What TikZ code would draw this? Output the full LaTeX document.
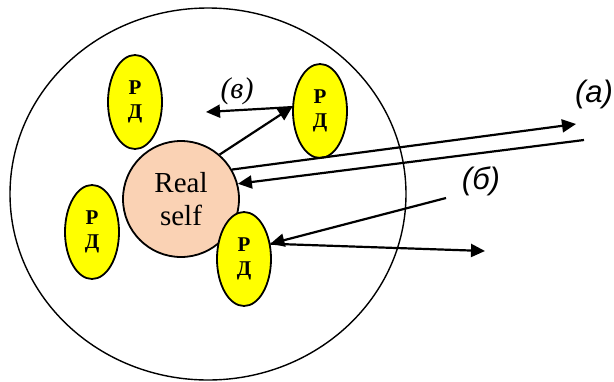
\documentclass[tikz,border=0pt]{standalone}
\usepackage{fontspec}
\setmainfont{Liberation Serif}
\newfontfamily\labelsans{Liberation Sans}
\usetikzlibrary{arrows.meta,shapes.geometric}
\definecolor{rdyellow}{RGB}{255,255,0}
\definecolor{selfpeach}{RGB}{250,210,180}

\begin{document}
\begin{tikzpicture}[x=1pt,y=-1pt,>={Triangle[length=14pt,width=13pt]}]
\tikzstyle{rd}=[draw,ellipse,fill=rdyellow,line width=1.8pt,minimum width=54pt,minimum height=94pt,inner sep=0pt,align=center,font=\fontsize{21}{24}\selectfont\bfseries]
\tikzstyle{lab}=[font=\labelsans\itshape\fontsize{31}{33}\selectfont]
\tikzstyle{ar}=[->,line width=2.2pt]
\useasboundingbox (0,0) rectangle (614,381);
\node[draw,ellipse,line width=1.4pt,minimum width=396pt,minimum height=372pt] (outer) at (208,194) {};
\node[draw,circle,fill=selfpeach,line width=1.8pt,minimum size=116pt,align=center,font=\fontsize{29}{33}\selectfont] (self) at (181,199) {Real\\self};
\node[rd] (rd1) at (135,102) {Р\\Д};
\node[rd] (rd2) at (320,111) {Р\\Д};
\node[rd] (rd3) at (92,232) {Р\\Д};
\node[rd] (rd4) at (244,259) {Р\\Д};
\coordinate (vend) at (206,112);
\coordinate (aout) at (576,124);
\coordinate (ain) at (584,140);
\coordinate (bin) at (446,198);
\coordinate (bout) at (485,251);
\node[lab] (la) at (594,94) {(а)};
\node[lab] (lb) at (481,181) {(б)};
\node[font=\itshape\fontsize{30}{32}\selectfont] (lv) at (237,91) {(в)};
\draw[ar] (self.49)--(rd2.172);\draw[ar] (rd2.172)--(vend);
\draw[ar] (self.30)--(aout);\draw[ar] (ain)--(self.15);
\draw[ar] (bin)--(rd4.30);\draw[ar] (rd4.30)--(bout);
\end{tikzpicture}
\end{document}
